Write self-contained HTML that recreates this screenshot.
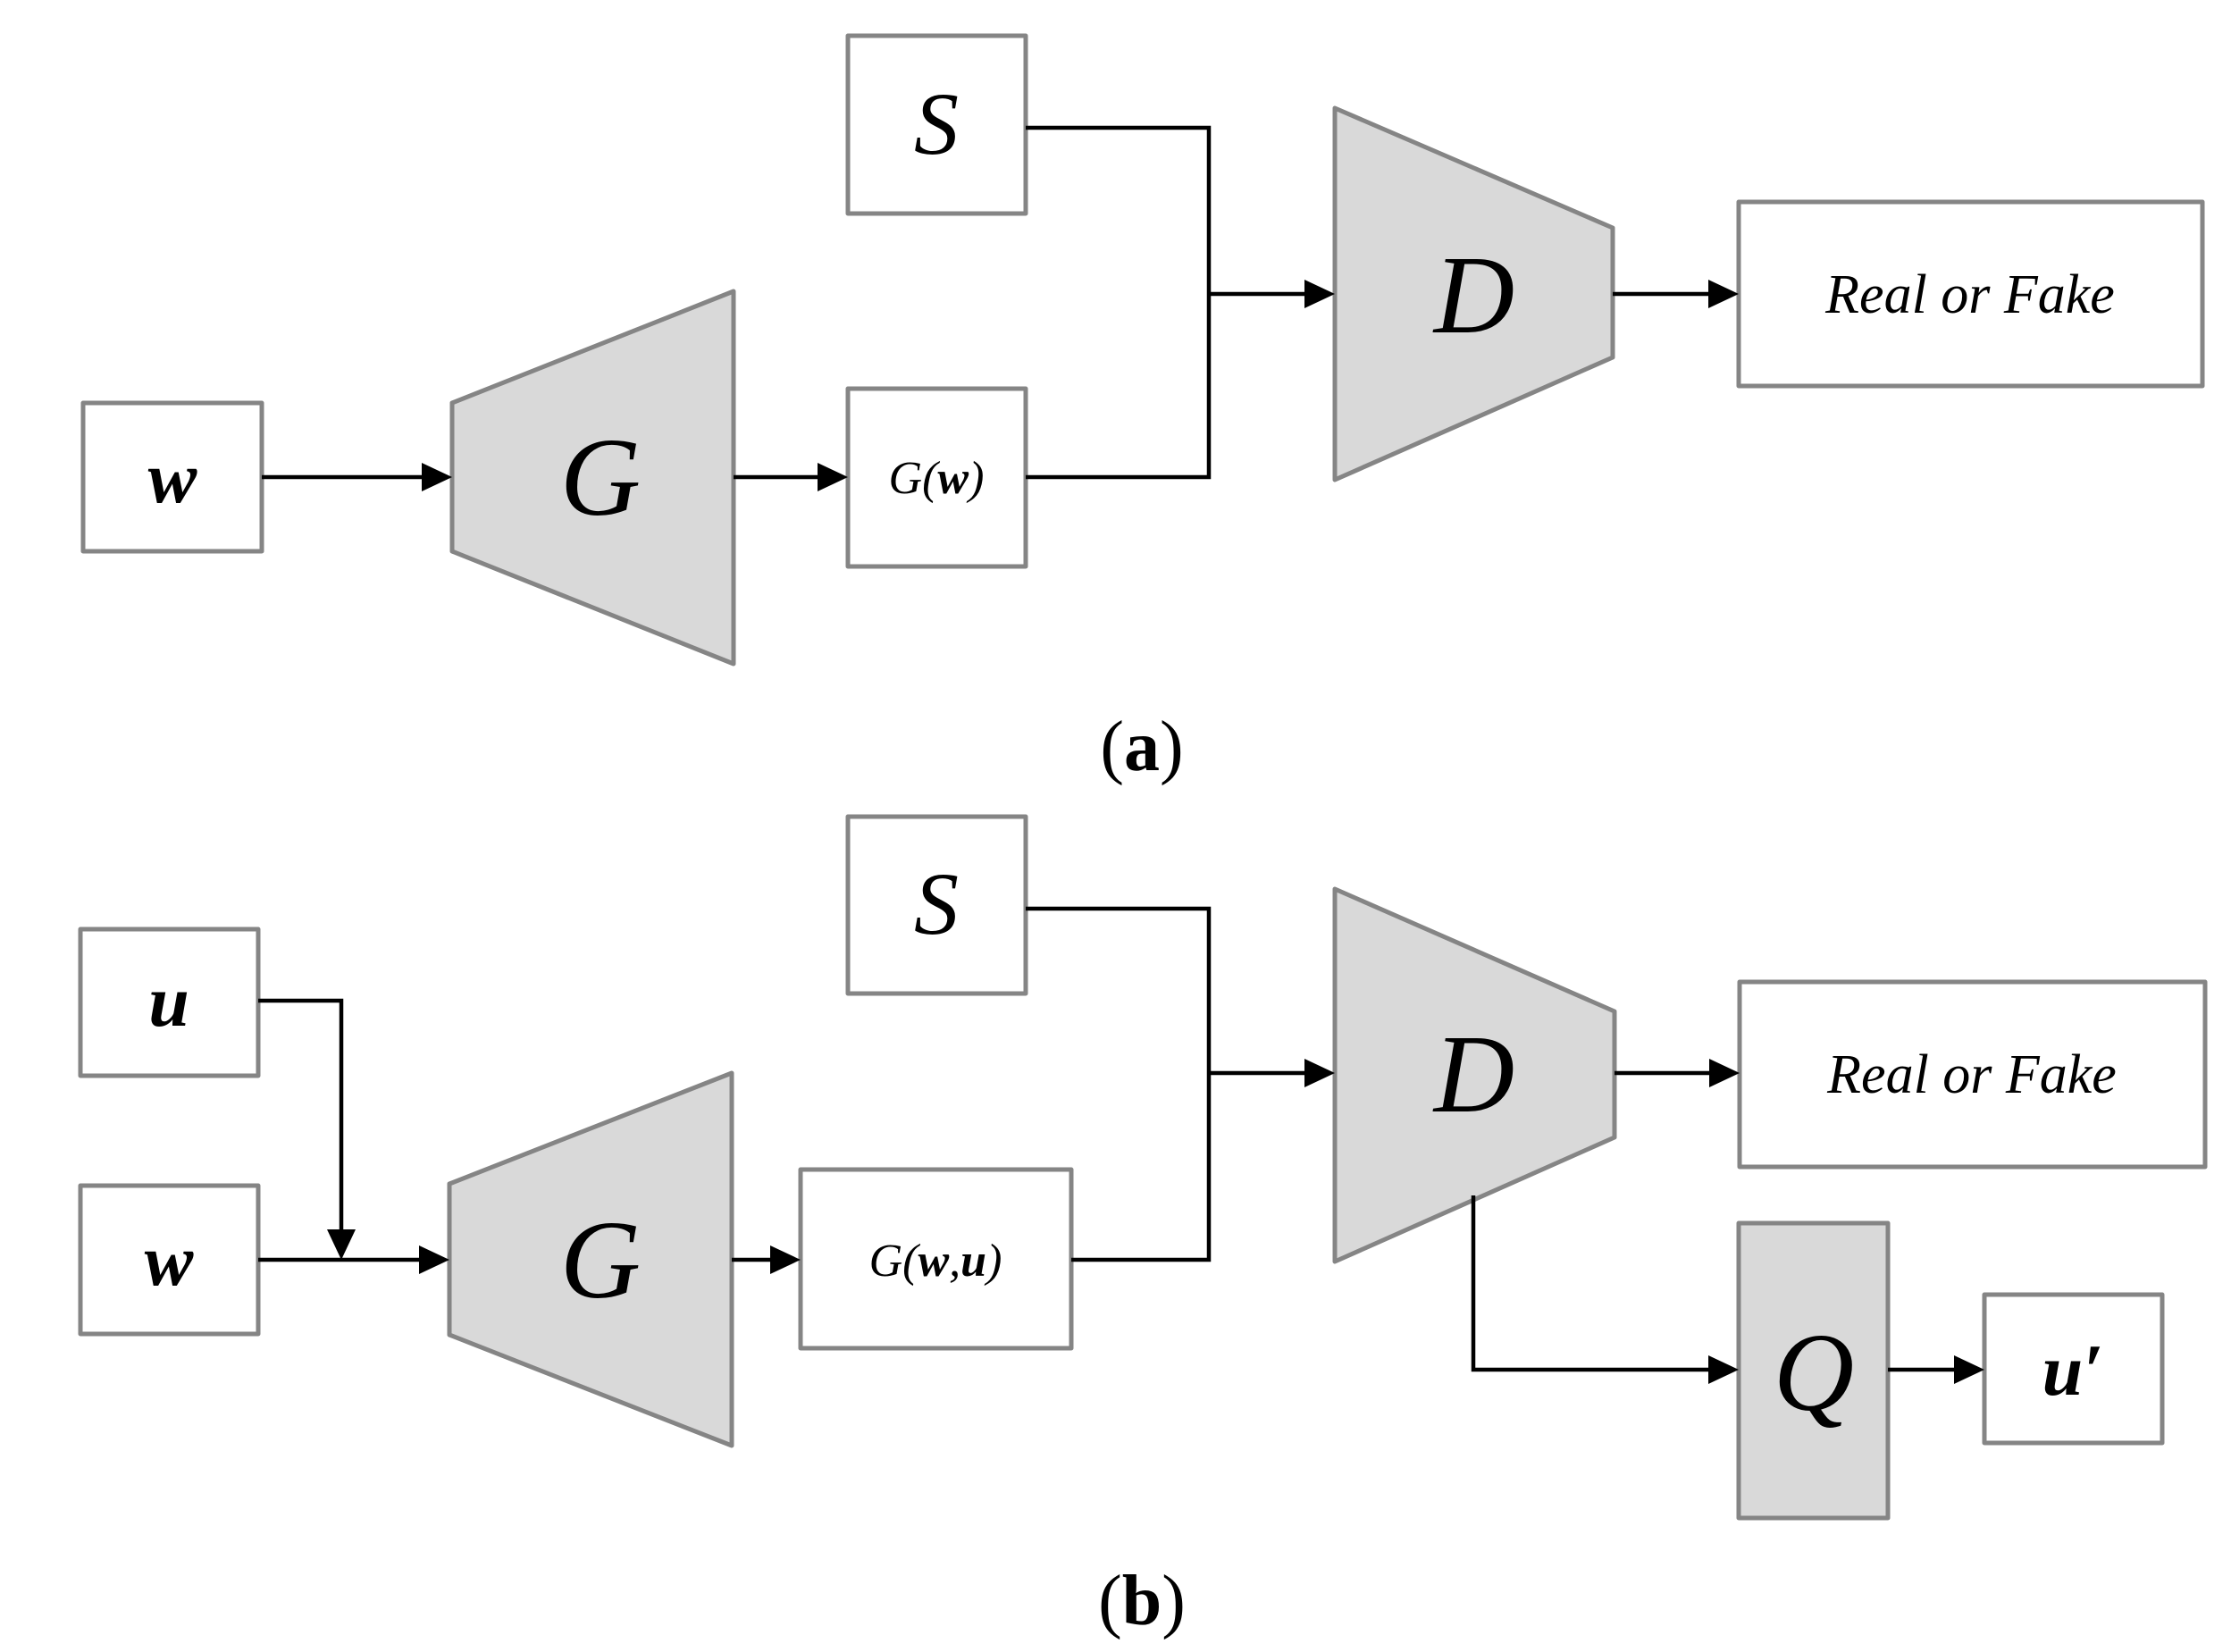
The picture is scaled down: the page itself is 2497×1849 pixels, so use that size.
<!DOCTYPE html>
<html><head><meta charset="utf-8"><style>
html,body{margin:0;padding:0;background:#fff;}
svg{display:block;}
text{font-family:"Liberation Serif",serif;}
</style></head><body>
<svg width="2497" height="1849" viewBox="0 0 2497 1849" xmlns="http://www.w3.org/2000/svg">
<g stroke="#858585" stroke-width="5" fill="#fff" stroke-linejoin="round">
<rect x="949" y="40" width="199" height="199"/>
<rect x="1946" y="226" width="519" height="206"/>
<rect x="93" y="451" width="200" height="166"/>
<rect x="949" y="435" width="199" height="199"/>
<polygon points="1494,121 1805,255 1805,400 1494,537" fill="#d9d9d9"/>
<polygon points="506,451 821,326 821,743 506,617" fill="#d9d9d9"/>
<rect x="949" y="914" width="199" height="198"/>
<rect x="90" y="1040" width="199" height="164"/>
<rect x="90" y="1327" width="199" height="166"/>
<rect x="896" y="1309" width="303" height="200"/>
<rect x="1947" y="1099" width="521" height="207"/>
<rect x="2221" y="1449" width="199" height="166"/>
<rect x="1946" y="1369" width="167" height="330" fill="#d9d9d9"/>
<polygon points="503,1325 819,1201 819,1618 503,1494" fill="#d9d9d9"/>
<polygon points="1494,995 1807,1132 1807,1273 1494,1412" fill="#d9d9d9"/>
</g>
<g stroke="#000" stroke-width="4.5" fill="none">
<line x1="293" y1="534" x2="480" y2="534"/>
<line x1="821" y1="534" x2="922" y2="534"/>
<polyline points="1148,534 1353,534 1353,143 1148,143"/>
<line x1="1353" y1="329" x2="1468" y2="329"/>
<line x1="1805" y1="329" x2="1920" y2="329"/>
<polyline points="289,1120 382,1120 382,1385"/>
<line x1="289" y1="1410" x2="477" y2="1410"/>
<line x1="819" y1="1410" x2="870" y2="1410"/>
<polyline points="1199,1410 1353,1410 1353,1017 1148,1017"/>
<line x1="1353" y1="1201" x2="1468" y2="1201"/>
<line x1="1807" y1="1201" x2="1921" y2="1201"/>
<polyline points="1649,1338 1649,1533 1920,1533"/>
<line x1="2113" y1="1533" x2="2195" y2="1533"/>
</g>
<g fill="#000">
<polygon points="506,534 472,518 472,550"/>
<polygon points="949,534 915,518 915,550"/>
<polygon points="1494,329 1460,313 1460,345"/>
<polygon points="1946,329 1912,313 1912,345"/>
<polygon points="382,1410 366,1376 398,1376"/>
<polygon points="503,1410 469,1394 469,1426"/>
<polygon points="896,1410 862,1394 862,1426"/>
<polygon points="1494,1201 1460,1185 1460,1217"/>
<polygon points="1947,1201 1913,1185 1913,1217"/>
<polygon points="1946,1533 1912,1517 1912,1549"/>
<polygon points="2221,1533 2187,1517 2187,1549"/>
</g>
<g fill="#000" font-style="italic" text-anchor="middle">
<text x="1048" y="172" font-size="100">S</text>
<text x="1650" y="372" font-size="125">D</text>
<text x="2205" y="350" font-size="62">Real or Fake</text>
<text x="193" y="562" font-size="82" font-weight="bold">w</text>
<text x="672" y="576" font-size="125">G</text>
<text x="1048" y="552" font-size="52">G(<tspan font-weight="bold">w</tspan>)</text>
<text x="1048" y="1045" font-size="100">S</text>
<text x="1650" y="1244" font-size="125">D</text>
<text x="2207" y="1223" font-size="62">Real or Fake</text>
<text x="189" y="1148" font-size="82" font-weight="bold">u</text>
<text x="189" y="1438" font-size="82" font-weight="bold">w</text>
<text x="672" y="1452" font-size="125">G</text>
<text x="1047" y="1428" font-size="52">G(<tspan font-weight="bold">w</tspan>,<tspan font-weight="bold">u</tspan>)</text>
<text x="2030" y="1578" font-size="125">Q</text>
<text x="2320" y="1561" font-size="82" font-weight="bold">u′</text>
</g>
<g fill="#000" text-anchor="middle" font-size="80">
<text x="1278" y="862">(<tspan font-weight="bold">a</tspan>)</text>
<text x="1278" y="1818">(<tspan font-weight="bold">b</tspan>)</text>
</g>
</svg>
</body></html>
